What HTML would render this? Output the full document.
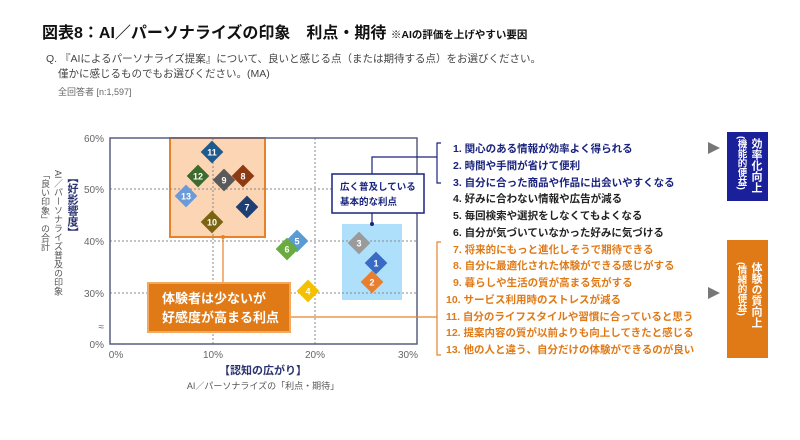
<!DOCTYPE html>
<html><head><meta charset="utf-8"><style>
body{margin:0;background:#fff;}
svg text{font-family:"Liberation Sans","Noto Sans CJK JP",sans-serif;}
</style></head><body>
<svg width="800" height="435" viewBox="0 0 800 435" xmlns="http://www.w3.org/2000/svg">
<rect width="800" height="435" fill="#fff"/>
<text x="42" y="38" font-size="16" font-weight="bold" fill="#111">図表8：AI／パーソナライズの印象　利点・期待 <tspan font-size="10.5">※AIの評価を上げやすい要因</tspan></text>
<text x="46" y="62" font-size="10.5" fill="#444">Q. 『AIによるパーソナライズ提案』について、良いと感じる点（または期待する点）をお選びください。</text>
<text x="58" y="77" font-size="10.5" fill="#444">僅かに感じるものでもお選びください。(MA)</text>
<text x="58" y="95" font-size="9" fill="#666">全回答者 [n:1,597]</text>

<rect x="170" y="138" width="95" height="99" fill="#fcd5b4" stroke="#e8822a" stroke-width="2"/>
<rect x="342" y="224" width="60" height="76" fill="#aee0fb"/>
<g stroke="#888" stroke-dasharray="2,2" stroke-width="1">
<line x1="110" y1="189" x2="417" y2="189"/><line x1="110" y1="241" x2="417" y2="241"/><line x1="110" y1="293" x2="417" y2="293"/>
<line x1="213" y1="138" x2="213" y2="344"/><line x1="315" y1="138" x2="315" y2="344"/>
</g>
<rect x="110" y="138" width="307" height="206" fill="none" stroke="#5a5f80" stroke-width="1.5"/>
<g font-size="10" fill="#666" text-anchor="end">
<text x="104" y="142">60%</text><text x="104" y="193">50%</text><text x="104" y="245">40%</text><text x="104" y="297">30%</text><text x="104" y="348">0%</text>
</g>
<text x="104" y="330" font-size="10" fill="#666" text-anchor="end">≈</text>
<g font-size="10" fill="#666" text-anchor="middle">
<text x="116" y="358">0%</text><text x="213" y="358">10%</text><text x="315" y="358">20%</text><text x="408" y="358">30%</text>
</g>
<text x="263" y="374" font-size="11" font-weight="bold" fill="#2a3370" text-anchor="middle">【認知の広がり】</text>
<text x="263" y="389" font-size="9" fill="#555" text-anchor="middle">AI／パーソナライズの「利点・期待」</text>
<text x="72" y="172" font-size="11" font-weight="bold" fill="#2a3370" style="writing-mode:vertical-rl">【好影響度】</text>
<text x="58" y="170" font-size="9" fill="#555" style="writing-mode:vertical-rl">AI／パーソナライズ普及の印象</text>
<text x="45" y="170" font-size="9" fill="#555" style="writing-mode:vertical-rl">「良い印象」の合計</text>

<line x1="223" y1="237" x2="223" y2="283" stroke="#e8822a" stroke-width="1.2"/>
<circle cx="223" cy="237" r="2" fill="#e8822a"/>
<line x1="290" y1="317" x2="437" y2="317" stroke="#e8822a" stroke-width="1.2"/>
<polyline points="372,174 372,157 437,157" fill="none" stroke="#1a237e" stroke-width="1.2"/>
<line x1="372" y1="213" x2="372" y2="224" stroke="#1a237e" stroke-width="1.2"/>
<circle cx="372" cy="224" r="2" fill="#1a237e"/>
<rect x="148" y="283" width="142" height="49" fill="#e07a17" stroke="#f3a860" stroke-width="2"/>
<text x="162" y="303" font-size="13" font-weight="bold" fill="#fff">体験者は少ないが</text>
<text x="162" y="322" font-size="13" font-weight="bold" fill="#fff">好感度が高まる利点</text>
<rect x="332" y="174" width="92" height="39" fill="#fff" stroke="#1a237e" stroke-width="1.5"/>
<text x="340" y="190" font-size="9.5" font-weight="bold" fill="#1a237e">広く普及している</text>
<text x="340" y="205" font-size="9.5" font-weight="bold" fill="#1a237e">基本的な利点</text>

<g font-size="9" font-weight="bold" fill="#fff" text-anchor="middle">
<g transform="translate(212,152)"><rect x="-8" y="-8" width="16" height="16" transform="rotate(45)" fill="#1f5a8f"/><text y="3.5">11</text></g>
<g transform="translate(198,176)"><rect x="-8" y="-8" width="16" height="16" transform="rotate(45)" fill="#3d6b2e"/><text y="3.5">12</text></g>
<g transform="translate(224,180)"><rect x="-8" y="-8" width="16" height="16" transform="rotate(45)" fill="#5a5a5a"/><text y="3.5">9</text></g>
<g transform="translate(243,176)"><rect x="-8" y="-8" width="16" height="16" transform="rotate(45)" fill="#8b3a12"/><text y="3.5">8</text></g>
<g transform="translate(186,196)"><rect x="-8" y="-8" width="16" height="16" transform="rotate(45)" fill="#6b9ad8"/><text y="3.5">13</text></g>
<g transform="translate(247,207)"><rect x="-8" y="-8" width="16" height="16" transform="rotate(45)" fill="#1d3f73"/><text y="3.5">7</text></g>
<g transform="translate(212,222)"><rect x="-8" y="-8" width="16" height="16" transform="rotate(45)" fill="#7a6412"/><text y="3.5">10</text></g>
<g transform="translate(297,241)"><rect x="-8" y="-8" width="16" height="16" transform="rotate(45)" fill="#5b9bd5"/><text y="3.5">5</text></g>
<g transform="translate(287,249)"><rect x="-8" y="-8" width="16" height="16" transform="rotate(45)" fill="#6aab40"/><text y="3.5">6</text></g>
<g transform="translate(308,291)"><rect x="-8" y="-8" width="16" height="16" transform="rotate(45)" fill="#f5c000"/><text y="3.5">4</text></g>
<g transform="translate(359,243)"><rect x="-8" y="-8" width="16" height="16" transform="rotate(45)" fill="#9a9a9a"/><text y="3.5">3</text></g>
<g transform="translate(376,263)"><rect x="-8" y="-8" width="16" height="16" transform="rotate(45)" fill="#3a6bc4"/><text y="3.5">1</text></g>
<g transform="translate(372,282)"><rect x="-8" y="-8" width="16" height="16" transform="rotate(45)" fill="#e87e2e"/><text y="3.5">2</text></g>
</g>

<polyline points="441,143 437,143 437,183 441,183" fill="none" stroke="#1a237e" stroke-width="1.2"/>
<polyline points="441,242 437,242 437,355 441,355" fill="none" stroke="#e8822a" stroke-width="1.2"/>

<g font-size="10.5" font-weight="bold">
<g fill="#1a237e">
<text x="453" y="152">1. 関心のある情報が効率よく得られる</text>
<text x="453" y="169">2. 時間や手間が省けて便利</text>
<text x="453" y="186">3. 自分に合った商品や作品に出会いやすくなる</text>
</g>
<g fill="#222">
<text x="453" y="202">4. 好みに合わない情報や広告が減る</text>
<text x="453" y="219">5. 毎回検索や選択をしなくてもよくなる</text>
<text x="453" y="236">6. 自分が気づいていなかった好みに気づける</text>
</g>
<g fill="#e07a17">
<text x="453" y="253">7. 将来的にもっと進化しそうで期待できる</text>
<text x="453" y="269">8. 自分に最適化された体験ができる感じがする</text>
<text x="453" y="286">9. 暮らしや生活の質が高まる気がする</text>
<text x="446" y="303">10. サービス利用時のストレスが減る</text>
<text x="446" y="320">11. 自分のライフスタイルや習慣に合っていると思う</text>
<text x="446" y="336">12. 提案内容の質が以前よりも向上してきたと感じる</text>
<text x="446" y="353">13. 他の人と違う、自分だけの体験ができるのが良い</text>
</g>
</g>
<polygon points="708,142 720,148 708,154" fill="#777"/>
<polygon points="708,287 720,293 708,299" fill="#777"/>
<rect x="727" y="132" width="41" height="69" fill="#1a1f9a"/>
<text x="756" y="138" font-size="11" font-weight="bold" fill="#fff" style="writing-mode:vertical-rl">効率化向上</text>
<text x="741" y="136" font-size="9.5" font-weight="bold" fill="#fff" style="writing-mode:vertical-rl">(機能的便益)</text>
<rect x="727" y="240" width="41" height="118" fill="#e07a17"/>
<text x="756" y="262" font-size="11" font-weight="bold" fill="#fff" style="writing-mode:vertical-rl">体験の質向上</text>
<text x="741" y="262" font-size="9.5" font-weight="bold" fill="#fff" style="writing-mode:vertical-rl">(情緒的便益)</text>
</svg>
</body></html>
